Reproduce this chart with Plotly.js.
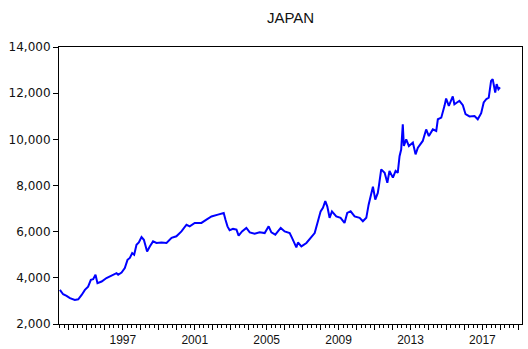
<!DOCTYPE html>
<html>
<head>
<meta charset="utf-8">
<script src="https://cdn.plot.ly/plotly-3.0.1.min.js"></script>
<style>
  html, body { margin: 0; padding: 0; background: #fff; }
  #chart { width: 528px; height: 349px; }
</style>
</head>
<body>
<div id="chart"></div>
<script>
// Time in decimal years
const t = [
  1993.50, 1993.68, 1993.87, 1994.06, 1994.33, 1994.52, 1994.71, 1994.89,
  1995.07, 1995.22, 1995.35, 1995.48, 1995.59, 1995.82, 1996.09, 1996.37,
  1996.65, 1996.74, 1996.93, 1997.11, 1997.26, 1997.39, 1997.52, 1997.63,
  1997.76, 1997.89, 1998.04, 1998.17, 1998.35, 1998.50, 1998.68, 1998.87,
  1999.15, 1999.43, 1999.71, 1999.98, 2000.26, 2000.54, 2000.72, 2001.00,
  2001.37, 2001.65, 2001.93, 2002.29, 2002.61, 2002.71, 2002.82, 2002.94,
  2003.13, 2003.32, 2003.44, 2003.63, 2003.87, 2004.06, 2004.33, 2004.61,
  2004.89, 2005.11, 2005.26, 2005.48, 2005.78, 2006.00, 2006.28, 2006.41,
  2006.56, 2006.65, 2006.74, 2006.93, 2007.21, 2007.44, 2007.67, 2007.85,
  2008.00, 2008.13, 2008.26, 2008.37, 2008.50, 2008.63, 2008.87, 2009.11,
  2009.33, 2009.48, 2009.67, 2009.89, 2010.17, 2010.35, 2010.54, 2010.67,
  2010.78, 2010.91, 2011.04, 2011.18, 2011.24, 2011.37, 2011.56, 2011.71,
  2011.83, 2012.02, 2012.17, 2012.29, 2012.39, 2012.48, 2012.57, 2012.63,
  2012.76, 2012.91, 2013.13, 2013.28, 2013.41, 2013.68, 2013.87, 2014.02,
  2014.24, 2014.43, 2014.52, 2014.71, 2014.89, 2014.98, 2015.13, 2015.35,
  2015.44, 2015.72, 2015.91, 2016.06, 2016.28, 2016.56, 2016.74, 2016.93,
  2017.07, 2017.21, 2017.35, 2017.48, 2017.57, 2017.71, 2017.79, 2017.89,
  2017.98
];

// JAPAN index level
const japan = [
  3480, 3290, 3220, 3120, 3040, 3070, 3260, 3480,
  3620, 3910, 3940, 4130, 3770, 3840, 3990, 4090,
  4200, 4130, 4230, 4420, 4780, 4860, 5070, 5000,
  5430, 5530, 5770, 5650, 5140, 5360, 5580, 5510,
  5530, 5510, 5730, 5800, 6010, 6300, 6230, 6380,
  6380, 6520, 6660, 6740, 6810, 6520, 6230, 6060,
  6120, 6090, 5830, 6010, 6160, 5970, 5910, 5970,
  5940, 6230, 5970, 5870, 6160, 6010, 5940, 5730,
  5430, 5320, 5530, 5360, 5510, 5730, 5940, 6450,
  6880, 7030, 7320, 7100, 6600, 6880, 6660, 6600,
  6380, 6810, 6880, 6660, 6600, 6450, 6600, 7170,
  7530, 7950, 7390, 7680, 7970, 8700, 8550, 8120,
  8630, 8340, 8630, 8550, 9270, 9560, 10650, 9710,
  10000, 9710, 9860, 9350, 9640, 9930, 10430, 10140,
  10430, 10360, 10870, 10940, 11450, 11770, 11450, 11860,
  11520, 11670, 11480, 11090, 10990, 11010, 10870, 11130,
  11600, 11740, 11810, 12530, 12610, 12030, 12390, 12170,
  12250
];

// Year ticks, labelled every fourth year
const tickYears = [];
for (let y = 1994; y <= 2019; y++) tickYears.push(y);
const labelYears = [1997, 2001, 2005, 2009, 2013, 2017];
const tickLabels = tickYears.map(y => labelYears.includes(y) ? String(y) : '');

const yTicks = [2000, 4000, 6000, 8000, 10000, 12000, 14000];

const trace = {
  x: t,
  y: japan,
  type: 'scatter',
  mode: 'lines',
  line: { color: '#0000ff', width: 2 },
  hoverinfo: 'skip'
};

const layout = {
  width: 528,
  height: 349,
  margin: { l: 59, r: 6, t: 47, b: 25, pad: 0 },
  paper_bgcolor: '#ffffff',
  plot_bgcolor: '#ffffff',
  showlegend: false,
  title: {
    text: 'JAPAN',
    font: { family: 'Liberation Sans, Arial, sans-serif', size: 15, color: '#111' },
    xref: 'paper', x: 0.5, xanchor: 'center',
    yref: 'container', y: 0.948, yanchor: 'middle'
  },
  xaxis: {
    type: 'linear',
    range: [1993.45, 2019.2],
    tickmode: 'array',
    tickvals: tickYears,
    ticktext: tickLabels,
    ticks: 'outside',
    ticklen: 5,
    tickwidth: 1,
    tickcolor: '#000',
    minor: { tickmode: 'linear', tick0: 1993, dtick: 0.25, ticks: 'outside', ticklen: 3, tickwidth: 1, tickcolor: '#000', showgrid: false },
    showgrid: false,
    zeroline: false,
    showline: true,
    linecolor: '#000',
    linewidth: 1,
    mirror: true,
    tickfont: { family: 'Liberation Sans, Arial, sans-serif', size: 12, color: '#111' },
    fixedrange: true
  },
  yaxis: {
    range: [2000, 14000],
    tickmode: 'array',
    tickvals: yTicks,
    tickformat: ',d',
    ticks: 'outside',
    ticklen: 5,
    tickwidth: 1,
    tickcolor: '#000',
    showgrid: false,
    zeroline: false,
    showline: true,
    linecolor: '#000',
    linewidth: 1,
    mirror: true,
    tickfont: { family: 'DejaVu Sans, sans-serif', size: 12, color: '#111' },
    fixedrange: true
  }
};

Plotly.newPlot('chart', [trace], layout, { displayModeBar: false, staticPlot: true });
</script>
</body>
</html>
